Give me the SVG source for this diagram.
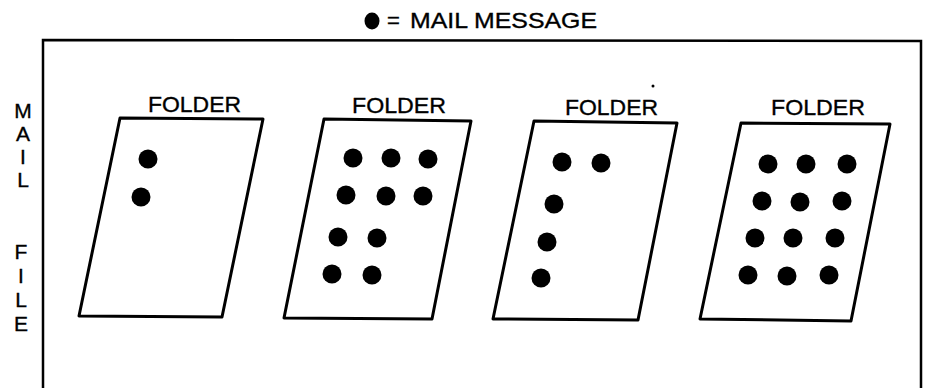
<svg xmlns="http://www.w3.org/2000/svg" width="926" height="390" viewBox="0 0 926 390">
<style>
.t{font-family:"Liberation Sans",Arial,sans-serif;font-size:22px;fill:#000;stroke:#000;stroke-width:0.35}
.v{font-family:"Liberation Sans",Arial,sans-serif;font-size:21px;fill:#000;stroke:#000;stroke-width:0.35;text-anchor:middle}
.f{fill:#fff;stroke:#000;stroke-width:3;stroke-linejoin:round}
.d{fill:#000}
</style>
<rect width="926" height="390" fill="#fff"/>
<g id="legend">
<ellipse cx="372" cy="21" rx="7.5" ry="8.5" class="d"/>
<text class="t" x="387" y="28" font-size="16" stroke-width="0">=</text>
<text class="t" x="410" y="28" textLength="187" lengthAdjust="spacingAndGlyphs">MAIL MESSAGE</text>
</g>
<g id="mailfile">
<polyline points="43,388 43,40 921,41 921,388" fill="none" stroke="#000" stroke-width="2.5"/>
<text class="v" x="23" y="118">M</text>
<text class="v" x="23" y="141">A</text>
<text class="v" x="23" y="164">I</text>
<text class="v" x="23" y="187">L</text>
<text class="v" x="21" y="259">F</text>
<text class="v" x="21" y="283">I</text>
<text class="v" x="21" y="307">L</text>
<text class="v" x="21" y="331">E</text>
</g>
<g id="folder1">
<text class="t" x="148" y="112" textLength="93" lengthAdjust="spacingAndGlyphs">FOLDER</text>
<polygon class="f" points="120,118 263,119 222,317 79,316"/>
<circle class="d" cx="148" cy="159" r="9.5"/>
<circle class="d" cx="141" cy="197" r="9.5"/>
</g>
<g id="folder2">
<text class="t" x="352" y="113" textLength="94" lengthAdjust="spacingAndGlyphs">FOLDER</text>
<polygon class="f" points="324,119 471,121 432,319 284,318"/>
<circle class="d" cx="353" cy="158" r="9.5"/>
<circle class="d" cx="391" cy="158" r="9.5"/>
<circle class="d" cx="428" cy="159" r="9.5"/>
<circle class="d" cx="346" cy="195" r="9.5"/>
<circle class="d" cx="386" cy="196" r="9.5"/>
<circle class="d" cx="423" cy="196" r="9.5"/>
<circle class="d" cx="338" cy="237" r="9.5"/>
<circle class="d" cx="377" cy="238" r="9.5"/>
<circle class="d" cx="332" cy="274" r="9.5"/>
<circle class="d" cx="372" cy="275" r="9.5"/>
</g>
<g id="folder3">
<text class="t" x="565" y="115" textLength="93" lengthAdjust="spacingAndGlyphs">FOLDER</text>
<circle class="d" cx="653" cy="86" r="1.5"/>
<polygon class="f" points="534,121 677,123 638,320 493,319"/>
<circle class="d" cx="562" cy="162" r="9.5"/>
<circle class="d" cx="601" cy="163" r="9.5"/>
<circle class="d" cx="554" cy="204" r="9.5"/>
<circle class="d" cx="547" cy="242" r="9.5"/>
<circle class="d" cx="541" cy="278" r="9.5"/>
</g>
<g id="folder4">
<text class="t" x="771" y="115" textLength="94" lengthAdjust="spacingAndGlyphs">FOLDER</text>
<polygon class="f" points="741,123 890,124 851,321 700,319"/>
<circle class="d" cx="768" cy="164" r="9.5"/>
<circle class="d" cx="806" cy="164" r="9.5"/>
<circle class="d" cx="847" cy="164" r="9.5"/>
<circle class="d" cx="762" cy="201" r="9.5"/>
<circle class="d" cx="800" cy="202" r="9.5"/>
<circle class="d" cx="842" cy="201" r="9.5"/>
<circle class="d" cx="755" cy="238" r="9.5"/>
<circle class="d" cx="793" cy="238" r="9.5"/>
<circle class="d" cx="835" cy="238" r="9.5"/>
<circle class="d" cx="748" cy="275" r="9.5"/>
<circle class="d" cx="787" cy="276" r="9.5"/>
<circle class="d" cx="829" cy="275" r="9.5"/>
</g>
</svg>
